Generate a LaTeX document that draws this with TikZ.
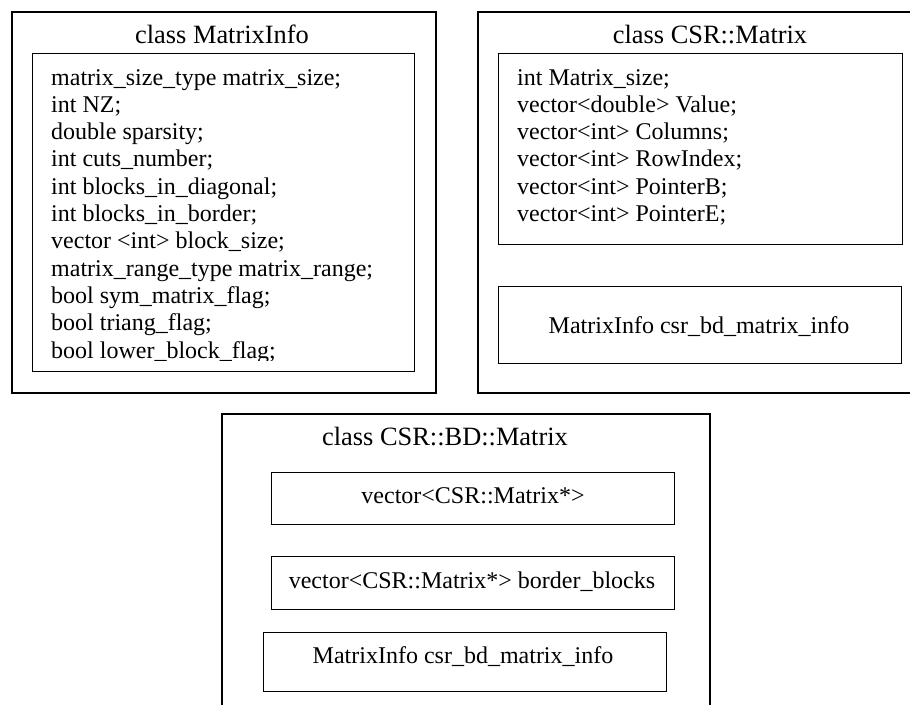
\documentclass[tikz,border=0pt]{standalone}
\usepackage{fontspec}
\setmainfont{Liberation Serif}
\tikzset{
  outerbox/.style={draw, line width=1.6pt, inner sep=0pt, anchor=north west},
  innerbox/.style={draw, line width=1.4pt, inner sep=0pt, anchor=north west},
  titletext/.style={font=\fontsize{26.4}{30}\selectfont, anchor=base, inner sep=0pt},
  bodytext/.style={font=\fontsize{24}{27.3}\selectfont, anchor=base west, inner sep=0pt},
  boxtext/.style={font=\fontsize{24}{27.3}\selectfont, anchor=base, inner sep=0pt},
}
\begin{document}
\begin{tikzpicture}[x=1pt,y=-1pt]
\useasboundingbox (0,0) rectangle (910,704);
\clip (0,0) rectangle (910,704);
\fill[white] (0,0) rectangle (910,704);
% class MatrixInfo
\node[outerbox, minimum width=424pt, minimum height=381pt] (mi) at (11,11) {};
\node[innerbox, minimum width=382pt, minimum height=318pt] (miin) at (32,53) {};
\node[titletext] (mititle) at (222,43) {class MatrixInfo};
\begin{scope}
\clip (32,53) rectangle (414,360.5);
\foreach \t [count=\i] in {matrix\_size\_type matrix\_size;, int NZ;, double sparsity;, int cuts\_number;, int blocks\_in\_diagonal;, int blocks\_in\_border;, vector <int> block\_size;, matrix\_range\_type matrix\_range;, bool sym\_matrix\_flag;, bool triang\_flag;, bool lower\_block\_flag;}
  \node[bodytext] (mil\i) at (51,{85+27.3*(\i-1)}) {\t};
\end{scope}
% class CSR::Matrix
\node[outerbox, minimum width=443pt, minimum height=381pt] (csr) at (477,11) {};
\node[innerbox, minimum width=404pt, minimum height=191pt] (csrin) at (498,53) {};
\node[innerbox, minimum width=403pt, minimum height=77pt] (csrinfo) at (498,286) {};
\node[titletext] (csrtitle) at (710,43) {class CSR::Matrix};
\foreach \t [count=\i] in {int Matrix\_size;, vector<double> Value;, vector<int> Columns;, vector<int> RowIndex;, vector<int> PointerB;, vector<int> PointerE;}
  \node[bodytext] (csrl\i) at (517,{85+27.3*(\i-1)}) {\t};
\node[boxtext] (csrinfotext) at (699,333) {MatrixInfo csr\_bd\_matrix\_info};
% class CSR::BD::Matrix
\node[outerbox, minimum width=488pt, minimum height=307pt] (bd) at (221,413) {};
\node[titletext] (bdtitle) at (445,445) {class CSR::BD::Matrix};
\node[innerbox, minimum width=403pt, minimum height=52pt] (bda) at (271,472) {};
\node[boxtext] (bdatext) at (473,503) {vector<CSR::Matrix*>};
\node[innerbox, minimum width=403pt, minimum height=53pt] (bdb) at (271,556) {};
\node[boxtext] (bdbtext) at (472,588) {vector<CSR::Matrix*> border\_blocks};
\node[innerbox, minimum width=403pt, minimum height=59pt] (bdc) at (263,632) {};
\node[boxtext] (bdctext) at (463,663) {MatrixInfo csr\_bd\_matrix\_info};
\end{tikzpicture}
\end{document}
